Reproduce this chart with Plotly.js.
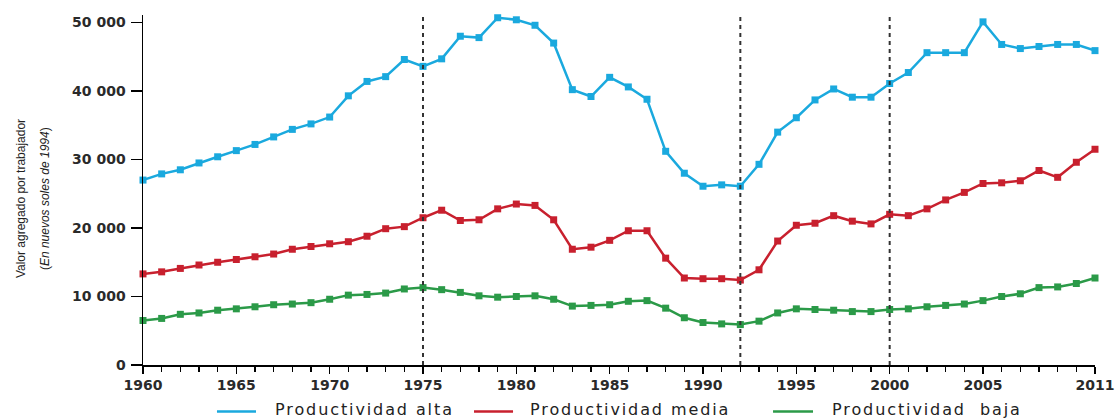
<!DOCTYPE html>
<html><head><meta charset="utf-8">
<script src="https://cdn.plot.ly/plotly-3.0.1.min.js"></script>
<style>
html,body{margin:0;padding:0;background:#fff;}
#chart{width:1115px;height:419px;}
</style>
</head><body><div id="chart"></div>
<script>
const years = [1960,1961,1962,1963,1964,1965,1966,1967,1968,1969,1970,1971,1972,1973,1974,1975,1976,1977,1978,1979,1980,1981,1982,1983,1984,1985,1986,1987,1988,1989,1990,1991,1992,1993,1994,1995,1996,1997,1998,1999,2000,2001,2002,2003,2004,2005,2006,2007,2008,2009,2010,2011];
const prodAlta = [27000,27900,28500,29500,30400,31300,32200,33300,34400,35200,36200,39300,41400,42100,44600,43600,44700,48000,47800,50700,50400,49600,47000,40200,39200,42000,40600,38800,31200,28000,26100,26300,26100,29300,34000,36100,38700,40300,39100,39100,41100,42700,45600,45600,45600,50100,46800,46200,46500,46800,46800,45900];
const prodMedia = [13300,13600,14100,14600,15000,15400,15800,16200,16900,17300,17700,18000,18800,19900,20200,21500,22600,21100,21200,22800,23500,23300,21200,16900,17200,18200,19600,19600,15600,12700,12600,12600,12400,13900,18100,20400,20700,21800,21000,20600,22000,21800,22800,24100,25200,26500,26600,26900,28400,27400,29600,31500];
const prodBaja = [6500,6800,7400,7600,8000,8200,8500,8800,8900,9100,9600,10200,10300,10500,11100,11300,11000,10600,10100,9900,10000,10100,9600,8600,8700,8800,9300,9400,8300,6900,6200,6000,5900,6400,7600,8200,8100,8000,7800,7800,8100,8200,8500,8700,8900,9400,10000,10400,11300,11400,11900,12700];
const seriesNames = ['Productividad alta','Productividad media','Productividad\u00a0 baja'];
const seriesColors = ['#1aa9de','#c8202e','#2b9a48'];
const xTickVals = [1960,1965,1970,1975,1980,1985,1990,1995,2000,2005,2011];
const xTickText = ['1960','1965','1970','1975','1980','1985','1990','1995','2000','2005','2011'];
const yTickVals = [0,10000,20000,30000,40000,50000];
const yTickText = ['0','10 000','20 000','30 000','40 000','50 000'];
const breakYears = [1975,1992,2000];
const yTitle1 = 'Valor agregado por trabajador';
const yTitle2 = '(<i>En nuevos soles de 1994</i>)';

const seriesData = [prodAlta, prodMedia, prodBaja];
const traces = seriesData.map((vals,i)=>({
  x: years, y: vals, type:'scatter', mode:'lines+markers', name: seriesNames[i],
  line:{color:seriesColors[i], width:2.5},
  marker:{symbol:'square', size:7, color:seriesColors[i]},
  cliponaxis:false, showlegend:false
}));

const tickFont = {family:'DejaVu Sans', size:14, color:'#2a2a2a', weight:'bold'};
const shapes = breakYears.map(yr=>({
  type:'line', xref:'x', yref:'paper', x0:yr, x1:yr, y0:0, y1:1.003,
  line:{color:'#333', width:2, dash:'4px,4px'}, layer:'above'
}));
const legendLineX = [[0.0777,0.1187],[0.3477,0.3887],[0.6618,0.7038]];
const legendTextX = [0.1366,0.4044,0.7216];
const legendY = -0.128;
legendLineX.forEach((p,i)=>shapes.push({type:'line', xref:'paper', yref:'paper', x0:p[0], x1:p[1], y0:-0.133, y1:-0.133, line:{color:seriesColors[i], width:2.5}}));
const annotations = seriesNames.map((n,i)=>({
  xref:'paper', yref:'paper', x:legendTextX[i], y:legendY, xanchor:'left', yanchor:'middle',
  text:'<span style="letter-spacing:1.9px">'+n+'</span>', showarrow:false,
  font:{family:'DejaVu Sans', size:16, color:'#222'}
}));
annotations.push({xref:'paper', yref:'paper', x:0, y:0.474, xshift:-122, xanchor:'center', yanchor:'middle', textangle:-90, text:yTitle1, showarrow:false, font:{family:'Liberation Sans', size:12, color:'#222'}});
annotations.push({xref:'paper', yref:'paper', x:0, y:0.474, xshift:-98, xanchor:'center', yanchor:'middle', textangle:-90, text:yTitle2, showarrow:false, font:{family:'Liberation Sans', size:12, color:'#222'}});

const layout = {
  width:1115, height:419,
  margin:{l:143, r:20, t:15, b:54},
  paper_bgcolor:'#fff', plot_bgcolor:'#fff',
  showlegend:false,
  xaxis:{range:[1960,2011], tickmode:'array', tickvals:xTickVals, ticktext:xTickText,
    ticks:'outside', ticklen:7, tickwidth:1.3, tickcolor:'#000', showline:true, linecolor:'#000', linewidth:1.5,
    showgrid:false, zeroline:false, tickfont:tickFont,
    minor:{tickmode:'linear', tick0:1960, dtick:1, ticks:'outside', ticklen:5, tickwidth:1.3, tickcolor:'#000', showgrid:false}},
  yaxis:{range:[0,51100], tickmode:'array', tickvals:yTickVals, ticktext:yTickText,
    ticks:'outside', ticklen:11, tickwidth:1.3, tickcolor:'#000', showline:true, linecolor:'#000', linewidth:1.5,
    showgrid:false, zeroline:false, tickfont:tickFont, ticklabelstandoff:2},
  shapes:shapes, annotations:annotations
};
Plotly.newPlot('chart', traces, layout, {displayModeBar:false, staticPlot:true});
</script></body></html>
